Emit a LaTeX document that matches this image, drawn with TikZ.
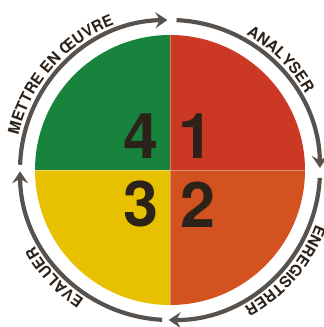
\documentclass[tikz,border=0pt]{standalone}
\usepackage{fontspec}
\setmainfont{TeX Gyre Heros}
\usetikzlibrary{arrows.meta,decorations.text}
\definecolor{greenq}{HTML}{17833C}
\definecolor{redq}{HTML}{CB3823}
\definecolor{yellowq}{HTML}{E7C100}
\definecolor{orangeq}{HTML}{D2531F}
\definecolor{arrowgray}{HTML}{57524E}
\definecolor{textdark}{HTML}{2D2219}
\newcommand\steplabelfont{\bfseries\fontsize{15.5}{15.5}\selectfont\color{textdark}}
\newcommand\bignumfont{\bfseries\fontsize{63}{63}\selectfont}
\begin{document}
\begin{tikzpicture}[x=1pt,y=1pt,
  cyclearrow/.style={draw=arrowgray,line width=4.2pt,-{Stealth[length=12pt,width=16pt,inset=4.5pt]}},
  steplabel/.style={decorate,decoration={text along path,text align=center,text={|\steplabelfont|#1}}},
  bignum/.style={font=\bignumfont,text=textdark,inner sep=0pt},
  sepline/.style={draw=white,opacity=0.35,line width=0.8pt}]
\useasboundingbox (-170,-157) rectangle (154,170);

\fill[greenq] (0,0) -- (180:135) arc[start angle=180,end angle=90,radius=135] -- cycle;
\fill[redq] (0,0) -- (90:135) arc[start angle=90,end angle=0,radius=135] -- cycle;
\fill[orangeq] (0,0) -- (0:135) arc[start angle=0,end angle=-90,radius=135] -- cycle;
\fill[yellowq] (0,0) -- (-90:135) arc[start angle=-90,end angle=-180,radius=135] -- cycle;
\draw[sepline] (0,135) -- (0,-135);
\draw[sepline] (-135,0) -- (135,0);

\node[bignum,anchor=base east] (four) at (-11,12) {4};
\node[bignum,anchor=base west] (one) at (8,12) {1};
\node[bignum,anchor=base east] (three) at (-11,-56) {3};
\node[bignum,anchor=base west] (two) at (10,-57) {2};

\draw[cyclearrow] (178:150) arc[start angle=178,end angle=91,radius=150];
\draw[cyclearrow] (87.5:150) arc[start angle=87.5,end angle=0.8,radius=150];
\draw[cyclearrow] (-3:150) arc[start angle=-3,end angle=-90.5,radius=150];
\draw[cyclearrow] (-93:150) arc[start angle=-93,end angle=-179.5,radius=150];

\path[steplabel={METTRE EN ŒUVRE}] (176:155.5) arc[start angle=176,end angle=102,radius=155.5];
\path[steplabel={ANALYSER}] (76:155.5) arc[start angle=76,end angle=14,radius=155.5];
\path[steplabel={ENREGISTRER}] (-4:155.5) arc[start angle=-4,end angle=-78,radius=155.5];
\path[steplabel={EVALUER}] (-104:155.5) arc[start angle=-104,end angle=-170,radius=155.5];
\end{tikzpicture}
\end{document}
